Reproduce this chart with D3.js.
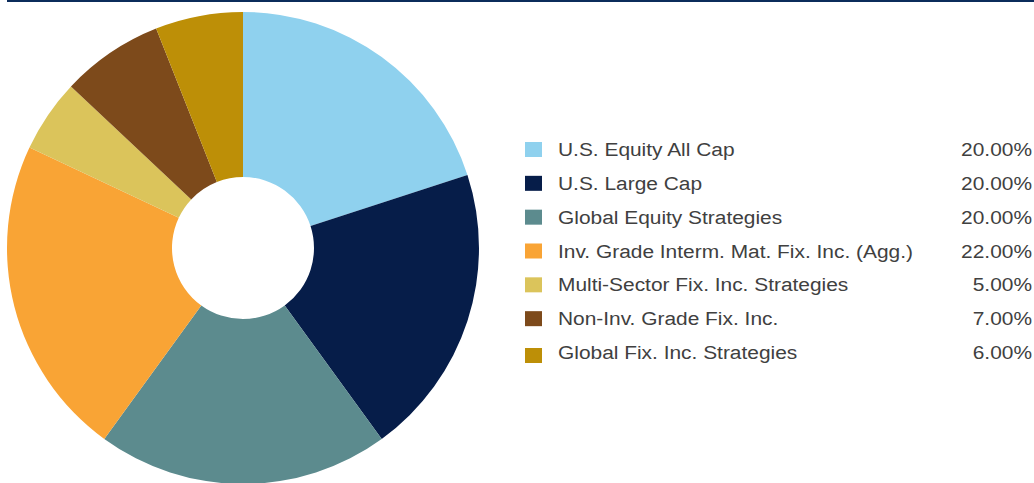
<!DOCTYPE html>
<html>
<head>
<meta charset="utf-8">
<script src="https://cdn.jsdelivr.net/npm/d3@7"></script>
<style>
  html, body { margin: 0; padding: 0; background: #fff; }
  svg { display: block; }
</style>
</head>
<body>
<svg id="chart" width="1034" height="483"></svg>
<script>
const categories = [
  "U.S. Equity All Cap",
  "U.S. Large Cap",
  "Global Equity Strategies",
  "Inv. Grade Interm. Mat. Fix. Inc. (Agg.)",
  "Multi-Sector Fix. Inc. Strategies",
  "Non-Inv. Grade Fix. Inc.",
  "Global Fix. Inc. Strategies"
];
const values = [20, 20, 20, 22, 5, 7, 6];
const valueLabels = ["20.00%", "20.00%", "20.00%", "22.00%", "5.00%", "7.00%", "6.00%"];
const colors = ["#8fd1ee", "#061d49", "#5c8b8e", "#f9a435", "#dbc45b", "#7d4a1b", "#bd8f07"];

const svg = d3.select("#chart");

// top rule
svg.append("rect").attr("x", 7).attr("y", 0).attr("width", 1027).attr("height", 2).attr("fill", "#0b2c5b");

const cx = 243, cy = 248, rOuter = 236, rInner = 71;
const data = categories.map((c, i) => ({ name: c, value: values[i], label: valueLabels[i], color: colors[i] }));

const pie = d3.pie().value(d => d.value).sort(null);
const arc = d3.arc().innerRadius(rInner).outerRadius(rOuter);

const g = svg.append("g").attr("transform", `translate(${cx},${cy})`);
g.selectAll("path").data(pie(data)).join("path")
  .attr("d", arc)
  .attr("fill", d => d.data.color);

// legend
const y = d3.scalePoint().domain(categories).range([156, 359]);
const lg = svg.append("g");
const rows = lg.selectAll("g").data(data).join("g")
  .attr("transform", d => `translate(0,${y(d.name)})`);
rows.append("rect")
  .attr("x", 525).attr("y", (d, i) => i === data.length - 1 ? -11 : -14)
  .attr("width", 17).attr("height", 15)
  .attr("fill", d => d.color);
rows.append("g").attr("transform", "translate(558,0) scale(1.1,1)")
  .append("text")
  .attr("x", 0).attr("y", 0)
  .attr("font-family", "'Liberation Sans', Arial, sans-serif")
  .attr("font-size", 19)
  .attr("fill", "#404040")
  .text(d => d.name);
rows.append("g").attr("transform", "translate(1032,0) scale(1.1,1)")
  .append("text")
  .attr("x", 0).attr("y", 0)
  .attr("text-anchor", "end")
  .attr("font-family", "'Liberation Sans', Arial, sans-serif")
  .attr("font-size", 19)
  .attr("fill", "#404040")
  .text(d => d.label);
</script>
</body>
</html>
